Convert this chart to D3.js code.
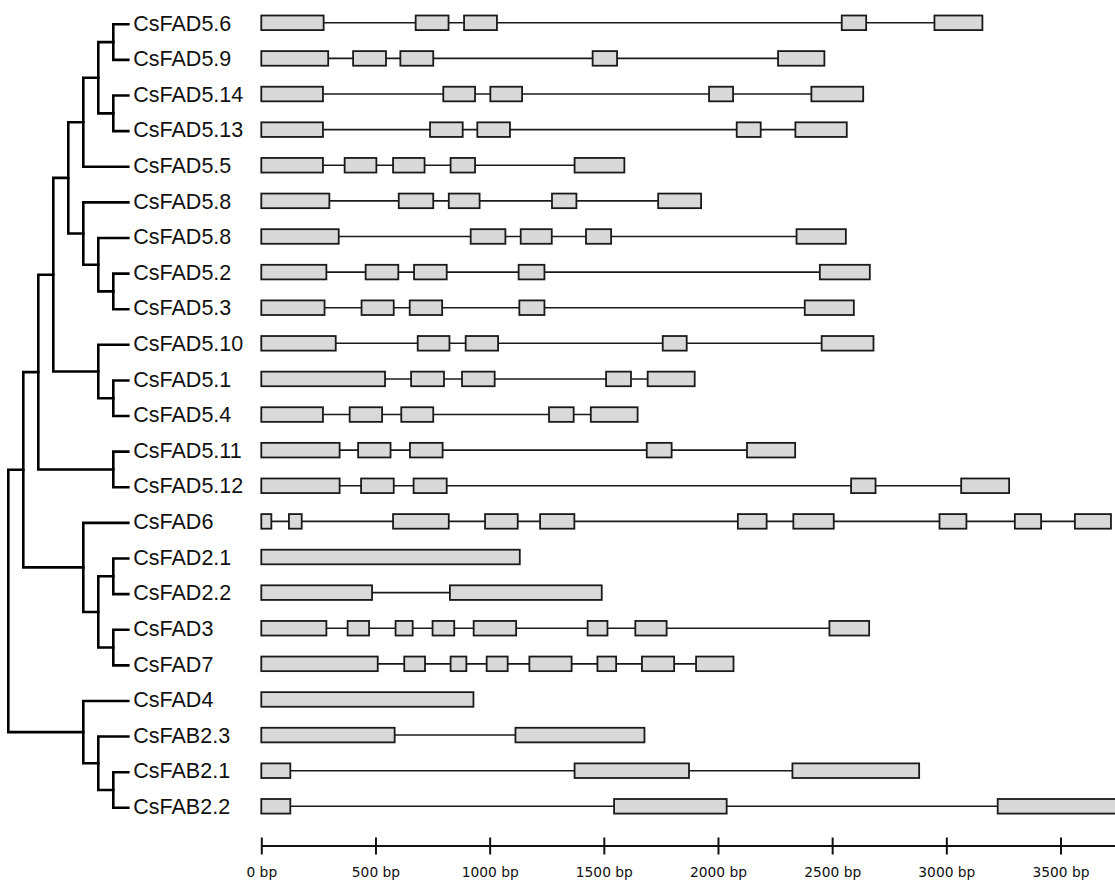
<!DOCTYPE html>
<html>
<head>
<meta charset="utf-8">
<script src="https://cdn.jsdelivr.net/npm/d3@7"></script>
<style>
  html, body { margin: 0; padding: 0; background: #fff; }
  svg { display: block; }
</style>
</head>
<body>
<svg id="chart" width="1115" height="882"></svg>
<script>
// ---- data ----
const genes = ["CsFAD5.6","CsFAD5.9","CsFAD5.14","CsFAD5.13","CsFAD5.5","CsFAD5.8","CsFAD5.8",
  "CsFAD5.2","CsFAD5.3","CsFAD5.10","CsFAD5.1","CsFAD5.4","CsFAD5.11","CsFAD5.12","CsFAD6",
  "CsFAD2.1","CsFAD2.2","CsFAD3","CsFAD7","CsFAD4","CsFAB2.3","CsFAB2.1","CsFAB2.2"];

// exons per gene, [start bp, end bp]
const exons = [
  [[0,273],[676,820],[888,1032],[2542,2649],[2948,3158]],
  [[0,293],[402,546],[609,753],[1451,1558],[2263,2466]],
  [[0,270],[797,936],[1003,1142],[1961,2066],[2409,2636]],
  [[0,270],[739,882],[946,1089],[2082,2187],[2339,2564]],
  [[0,270],[365,504],[577,715],[829,936],[1372,1590]],
  [[0,298],[602,753],[821,956],[1273,1380],[1738,1926]],
  [[0,339],[917,1069],[1136,1272],[1422,1532],[2344,2560]],
  [[0,285],[457,600],[669,812],[1127,1240],[2446,2665]],
  [[0,277],[439,580],[650,792],[1130,1240],[2380,2595]],
  [[0,326],[685,824],[895,1037],[1758,1863],[2454,2681]],
  [[0,542],[656,800],[879,1022],[1510,1619],[1692,1898]],
  [[0,270],[387,529],[613,753],[1260,1368],[1443,1648]],
  [[0,343],[424,566],[651,794],[1688,1797],[2127,2338]],
  [[0,343],[437,580],[667,812],[2583,2690],[3065,3275]],
  [[0,44],[121,177],[577,821],[980,1123],[1221,1371],[2087,2213],[2330,2507],[2970,3088],[3300,3415],[3563,3721]],
  [[0,1132]],
  [[0,485],[826,1491]],
  [[0,285],[378,472],[588,663],[750,845],[930,1116],[1429,1516],[1638,1775],[2488,2662]],
  [[0,510],[626,717],[829,898],[987,1079],[1174,1359],[1472,1554],[1667,1808],[1904,2068]],
  [[0,929]],
  [[0,584],[1113,1678]],
  [[0,127],[1372,1873],[2326,2881]],
  [[0,127],[1545,2038],[3225,3800]]
];

const tickValues = [0,500,1000,1500,2000,2500,3000,3500];
const tickLabels = ["0 bp","500 bp","1000 bp","1500 bp","2000 bp","2500 bp","3000 bp","3500 bp"];

// tree topology: internal node {l: depth level, c: children}; leaves = gene index
const tree = {l:0, c:[
  {l:1, c:[
    {l:2, c:[
      {l:3, c:[
        {l:4, c:[
          {l:5, c:[ {l:6, c:[ {l:7, c:[0,1]}, {l:7, c:[2,3]} ]}, 4 ]},
          {l:5, c:[ 5, {l:6, c:[ 6, {l:7, c:[7,8]} ]} ]}
        ]},
        {l:6, c:[ 9, {l:7, c:[10,11]} ]}
      ]},
      {l:7, c:[12,13]}
    ]},
    {l:5, c:[ 14, {l:6, c:[ {l:7, c:[15,16]}, {l:7, c:[17,18]} ]} ]}
  ]},
  {l:5, c:[ 19, {l:6, c:[ 20, {l:7, c:[21,22]} ]} ]}
]};
const leafLevel = 8;

// ---- scales ----
const svg = d3.select("#chart");
const x = d3.scaleLinear().domain([0, 3500]).range([261.3, 1060.5]);
const y = d3.scalePoint().domain(d3.range(genes.length)).range([22.8, 806.3]);
const lx = d3.scaleLinear().domain([0, leafLevel]).range([8.3, 128.3]);
const treeOffset = 1.5;

// ---- tree ----
const root = d3.hierarchy(tree, d => (typeof d === "object") ? d.c : null);
root.eachAfter(n => {
  if (n.children) {
    n.px = lx(n.data.l);
    n.py = (n.children[0].py + n.children[n.children.length - 1].py) / 2;
  } else {
    n.px = lx(leafLevel);
    n.py = y(n.data) + treeOffset;
  }
});
const tg = svg.append("g");
root.descendants().filter(n => n.children).forEach(n => {
  const first = n.children[0], last = n.children[n.children.length - 1];
  let p = `M${n.px},${first.py}V${last.py}`;
  n.children.forEach(c => { p += `M${n.px},${c.py}H${c.px}`; });
  tg.append("path").attr("d", p).attr("fill", "none")
    .attr("stroke", "#000").attr("stroke-width", 2.6).attr("stroke-linecap", "square");
});

// ---- labels ----
svg.append("g").selectAll("text").data(genes).join("text")
  .attr("x", 133.3).attr("y", (d, i) => y(i) + 7.7)
  .attr("font-family", "'Liberation Sans', Arial, sans-serif")
  .attr("font-size", 21.5).attr("fill", "#111")
  .text(d => d);

// ---- gene structures ----
const gg = svg.append("g");
const rows = gg.selectAll("g.gene").data(exons).join("g").attr("class", "gene")
  .attr("transform", (d, i) => `translate(0,${y(i)})`);
rows.append("line")
  .attr("x1", d => x(d[0][0])).attr("x2", d => x(d[d.length - 1][1]))
  .attr("y1", 0).attr("y2", 0)
  .attr("stroke", "#1a1a1a").attr("stroke-width", 1.6);
rows.selectAll("rect").data(d => d).join("rect")
  .attr("x", d => x(d[0])).attr("width", d => x(d[1]) - x(d[0]))
  .attr("y", -7.3).attr("height", 14.6)
  .attr("fill", "#d9d9d9").attr("stroke", "#1a1a1a").attr("stroke-width", 1.8);

// ---- axis ----
const axisY = 846;
const ag = svg.append("g").attr("transform", `translate(0,${axisY})`);
ag.call(d3.axisBottom(x).tickValues(tickValues)
  .tickFormat((d, i) => tickLabels[i]).tickSize(8));
ag.select(".domain").remove();
ag.append("line").attr("x1", x(0)).attr("x2", 1120).attr("y1", 0).attr("y2", 0)
  .attr("stroke", "#111").attr("stroke-width", 2);
ag.selectAll(".tick line").attr("y1", -8.5).attr("y2", 8.5)
  .attr("stroke", "#111").attr("stroke-width", 2);
ag.selectAll(".tick text").attr("y", 31).attr("dy", null)
  .attr("font-family", "'DejaVu Sans', Verdana, sans-serif")
  .attr("font-size", 13.8).attr("fill", "#111");
</script>
</body>
</html>
